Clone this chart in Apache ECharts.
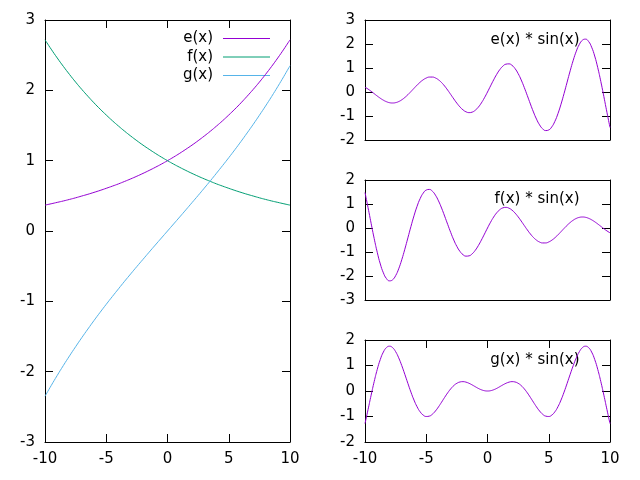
<!DOCTYPE html>
<html>
<head>
<meta charset="utf-8">
<script src="https://cdn.jsdelivr.net/npm/echarts@6/dist/echarts.min.js"></script>
<style>
html,body{margin:0;padding:0;background:#fff;}
#chart{width:640px;height:480px;}
</style>
</head>
<body>
<div id="chart"></div>
<script>
const xs = [-10,-9.5,-9,-8.5,-8,-7.5,-7,-6.5,-6,-5.5,-5,-4.5,-4,-3.5,-3,-2.5,-2,-1.5,-1,-0.5,0,0.5,1,1.5,2,2.5,3,3.5,4,4.5,5,5.5,6,6.5,7,7.5,8,8.5,9,9.5,10];
const eVals = [0.368,0.387,0.407,0.427,0.449,0.472,0.497,0.522,0.549,0.577,0.607,0.638,0.670,0.705,0.741,0.779,0.819,0.861,0.905,0.951,1.000,1.051,1.105,1.162,1.221,1.284,1.350,1.419,1.492,1.568,1.649,1.733,1.822,1.916,2.014,2.117,2.226,2.340,2.460,2.586,2.718];
const fVals = [2.718,2.586,2.460,2.340,2.226,2.117,2.014,1.916,1.822,1.733,1.649,1.568,1.492,1.419,1.350,1.284,1.221,1.162,1.105,1.051,1.000,0.951,0.905,0.861,0.819,0.779,0.741,0.705,0.670,0.638,0.607,0.577,0.549,0.522,0.497,0.472,0.449,0.427,0.407,0.387,0.368];
const gVals = [-2.350,-2.199,-2.053,-1.912,-1.776,-1.645,-1.517,-1.394,-1.273,-1.156,-1.042,-0.931,-0.822,-0.714,-0.609,-0.505,-0.403,-0.301,-0.200,-0.100,0,0.100,0.200,0.301,0.403,0.505,0.609,0.714,0.822,0.931,1.042,1.156,1.273,1.394,1.517,1.645,1.776,1.912,2.053,2.199,2.350];

const xsFine = [-10,-9.75,-9.5,-9.25,-9,-8.75,-8.5,-8.25,-8,-7.75,-7.5,-7.25,-7,-6.75,-6.5,-6.25,-6,-5.75,-5.5,-5.25,-5,-4.75,-4.5,-4.25,-4,-3.75,-3.5,-3.25,-3,-2.75,-2.5,-2.25,-2,-1.75,-1.5,-1.25,-1,-0.75,-0.5,-0.25,0,0.25,0.5,0.75,1,1.25,1.5,1.75,2,2.25,2.5,2.75,3,3.25,3.5,3.75,4,4.25,4.5,4.75,5,5.25,5.5,5.75,6,6.25,6.5,6.75,7,7.25,7.5,7.75,8,8.25,8.5,8.75,9,9.25,9.5,9.75,10];
const eSinVals = [0.200,0.121,0.029,-0.069,-0.168,-0.260,-0.341,-0.404,-0.445,-0.458,-0.443,-0.399,-0.326,-0.229,-0.112,0.018,0.153,0.286,0.407,0.508,0.582,0.622,0.623,0.585,0.507,0.393,0.247,0.078,-0.105,-0.290,-0.466,-0.621,-0.744,-0.826,-0.859,-0.838,-0.761,-0.632,-0.456,-0.241,0,
  0.254,0.504,0.735,0.930,1.075,1.159,1.172,1.111,0.974,0.768,0.503,0.190,-0.150,-0.498,-0.832,-1.129,-1.369,-1.533,-1.607,-1.581,-1.452,-1.223,-0.903,-0.509,-0.062,0.412,0.884,1.323,1.701,1.986,2.159,2.202,2.106,1.868,1.499,1.014,0.439,-0.194,-0.847,-1.479];
const fSinVals = [1.479,0.847,0.194,-0.439,-1.014,-1.499,-1.868,-2.106,-2.202,-2.159,-1.986,-1.701,-1.323,-0.884,-0.412,0.062,0.509,0.903,1.223,1.452,1.581,1.607,1.533,1.369,1.129,0.832,0.498,0.150,-0.190,-0.503,-0.768,-0.974,-1.111,-1.172,-1.159,-1.075,-0.930,-0.735,-0.504,-0.254,0,
  0.241,0.456,0.632,0.761,0.838,0.859,0.826,0.744,0.621,0.466,0.290,0.105,-0.078,-0.247,-0.393,-0.507,-0.585,-0.623,-0.622,-0.582,-0.508,-0.407,-0.286,-0.153,-0.018,0.112,0.229,0.326,0.399,0.443,0.458,0.445,0.404,0.341,0.260,0.168,0.069,-0.029,-0.121,-0.200];
const gSinVals = [-1.279,-0.727,-0.165,0.370,0.846,1.238,1.527,1.701,1.757,1.701,1.543,1.302,0.997,0.655,0.300,-0.044,-0.356,-0.617,-0.816,-0.944,-0.999,-0.985,-0.910,-0.784,-0.622,-0.439,-0.251,-0.072,0.085,0.213,0.302,0.353,0.367,0.346,0.300,0.238,0.169,0.102,0.048,0.012,0,
  0.012,0.048,0.102,0.169,0.238,0.300,0.346,0.367,0.353,0.302,0.213,0.085,-0.072,-0.251,-0.439,-0.622,-0.784,-0.910,-0.985,-0.999,-0.944,-0.816,-0.617,-0.356,-0.044,0.300,0.655,0.997,1.302,1.543,1.701,1.757,1.701,1.527,1.238,0.846,0.370,-0.165,-0.727,-1.279];

const legendNames = ['e(x)','f(x)','g(x)'];
const panelTitles = ['e(x) * sin(x)','f(x) * sin(x)','g(x) * sin(x)'];

const FONT = 'DejaVu Sans';
const FS = 15;
const PURPLE = '#9400D3', GREEN = '#009E73', BLUE = '#56B4E9';

function pairs(x, v){ return x.map((xx,i)=>[xx,v[i]]); }

const grids = [
  {left:45, top:20, width:245, height:422},
  {left:365, top:20, width:245, height:120},
  {left:365, top:180, width:245, height:120},
  {left:365, top:340, width:245, height:102}
];
const yRanges = [[-3,3],[-2,3],[-3,2],[-2,2]];
const showX = [true,false,false,true];

const xAxes = [], yAxes = [];
grids.forEach((g,i)=>{
  const lab = {show: showX[i], color:'#000', fontFamily:FONT, fontSize:FS, margin:10};
  xAxes.push({type:'value', gridIndex:i, position:'bottom', min:-10, max:10, interval:5,
    axisLine:{show:true, onZero:false, lineStyle:{color:'#000', width:1}},
    axisTick:{show:showX[i], inside:true, length:8, lineStyle:{color:'#000'}},
    axisLabel:lab, splitLine:{show:false}});
  xAxes.push({type:'value', gridIndex:i, position:'top', min:-10, max:10, interval:5,
    axisLine:{show:true, onZero:false, lineStyle:{color:'#000', width:1}},
    axisTick:{show:showX[i], inside:true, length:8, lineStyle:{color:'#000'}},
    axisLabel:{show:false}, splitLine:{show:false}});
  yAxes.push({type:'value', gridIndex:i, position:'left', min:yRanges[i][0], max:yRanges[i][1], interval:1,
    axisLine:{show:true, onZero:false, lineStyle:{color:'#000', width:1}},
    axisTick:{show:true, inside:true, length:8, lineStyle:{color:'#000'}},
    axisLabel:{color:'#000', fontFamily:FONT, fontSize:FS, margin:10}, splitLine:{show:false}});
  yAxes.push({type:'value', gridIndex:i, position:'right', min:yRanges[i][0], max:yRanges[i][1], interval:1,
    axisLine:{show:true, onZero:false, lineStyle:{color:'#000', width:1}},
    axisTick:{show:true, inside:true, length:8, lineStyle:{color:'#000'}},
    axisLabel:{show:false}, splitLine:{show:false}});
});

function ser(name, x, vals, gi, color){
  return {name:name, type:'line', xAxisIndex:gi*2, yAxisIndex:gi*2, data:pairs(x, vals),
    smooth:true, showSymbol:false, symbol:'none', animation:false,
    lineStyle:{color:color, width:1}, itemStyle:{color:color}};
}

const series = [
  ser(legendNames[0], xs, eVals, 0, PURPLE),
  ser(legendNames[1], xs, fVals, 0, GREEN),
  ser(legendNames[2], xs, gVals, 0, BLUE),
  ser(panelTitles[0], xsFine, eSinVals, 1, PURPLE),
  ser(panelTitles[1], xsFine, fSinVals, 2, PURPLE),
  ser(panelTitles[2], xsFine, gSinVals, 3, PURPLE)
];

const legendColors = [PURPLE, GREEN, BLUE];
const legendY = [38.5, 57, 75.5];
const graphics = [];
legendNames.forEach((n,i)=>{
  graphics.push({type:'text', x:213, y:legendY[i], style:{text:n, fill:'#000', font: FS+'px "'+FONT+'"', textAlign:'right', textVerticalAlign:'middle'}});
  graphics.push({type:'line', shape:{x1:223, y1:legendY[i], x2:270, y2:legendY[i]}, style:{stroke:legendColors[i], lineWidth:1}});
});
const titleY = [40, 199.5, 360];
panelTitles.forEach((t,i)=>{
  graphics.push({type:'text', x:579.5, y:titleY[i], style:{text:t, fill:'#000', font: FS+'px "'+FONT+'"', textAlign:'right', textVerticalAlign:'middle'}});
});

const chart = echarts.init(document.getElementById('chart'), null, {renderer:'canvas'});
chart.setOption({
  animation:false,
  backgroundColor:'#fff',
  grid:grids,
  xAxis:xAxes,
  yAxis:yAxes,
  series:series,
  graphic:graphics
});
</script>
</body>
</html>
